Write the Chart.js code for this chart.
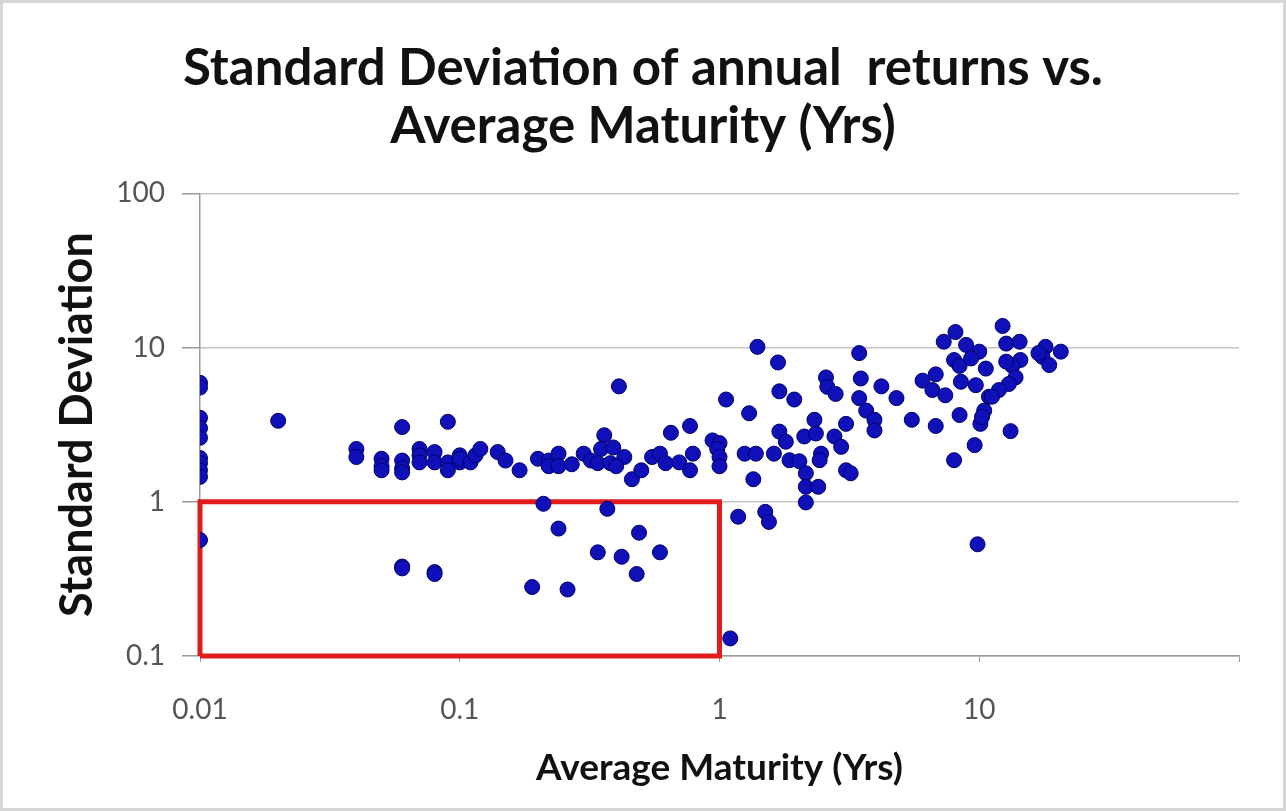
<!DOCTYPE html>
<html>
<head>
<meta charset="utf-8">
<script src="https://cdn.jsdelivr.net/npm/chart.js@4.4.1/dist/chart.umd.min.js"></script>
<style>
  body { margin: 0; background: #fff; }
  #wrap { width: 1286px; height: 811px; }
</style>
</head>
<body>
<div id="wrap"><canvas id="chart" width="1286" height="811"></canvas></div>
<script>
// average maturity (yrs) and standard deviation, read pairwise off the picture
const maturity = [
  0.01, 0.01, 0.01, 0.01, 0.01, 0.01, 0.01, 0.01, 0.01, 0.01,
  0.02, 0.04, 0.04, 0.05, 0.05, 0.05, 0.06, 0.06, 0.06, 0.06,
  0.07, 0.07, 0.07, 0.08, 0.08, 0.09, 0.09, 0.09, 0.1, 0.1, 0.1,
  0.11, 0.115, 0.06, 0.06, 0.08, 0.08,
  0.12, 0.14, 0.15, 0.17, 0.21, 0.2, 0.22, 0.22, 0.24, 0.24, 0.27, 0.3, 0.32,
  0.36, 0.35, 0.34, 0.39, 0.38, 0.41, 0.43, 0.4, 0.46, 0.5, 0.55, 0.59, 0.65,
  0.62, 0.7, 0.77, 0.79, 0.77, 0.94, 1.0, 0.98, 1.0, 1.0, 1.06, 1.3, 1.4,
  1.25, 1.38, 1.35, 1.18, 1.5, 1.55,
  0.24, 0.37, 0.49, 0.34, 0.42, 0.59, 0.48, 0.19, 0.26, 1.1,
  1.68, 1.7, 1.94, 1.7, 1.8, 1.62, 1.86, 2.03, 2.15, 2.15, 2.4, 2.15, 2.12,
  2.32, 2.35, 2.46, 2.43, 2.77, 2.94, 3.07, 3.07, 3.2, 2.57, 2.6, 2.8, 3.45,
  3.5, 3.45, 3.67, 3.95, 3.95, 4.2, 4.8, 5.5, 6.05, 6.8, 6.6, 7.4, 6.8, 7.3,
  8.1, 8.0, 8.4, 9.6, 9.85,
  12.3, 8.9, 10, 8.0, 8.4, 9.3, 10.6, 8.5, 9.7, 10.9, 10.45, 10.1, 13.2,
  12.7, 14.3, 14.4, 13.4, 12.7, 13.8, 13, 11.9, 11.2, 10.25, 18, 20.6, 17.5,
  18.6, 16.9
];
const stdDev = [
  5.9, 5.5, 3.5, 3.0, 2.6, 1.92, 1.78, 1.6, 1.45, 0.565,
  3.35, 2.2, 1.95, 1.9, 1.7, 1.6, 3.05, 1.85, 1.65, 1.55,
  2.2, 2.0, 1.8, 2.1, 1.8, 3.3, 1.8, 1.6, 2.0, 1.8, 1.9,
  1.8, 2.0, 0.38, 0.37, 0.35, 0.34,
  2.2, 2.1, 1.85, 1.6, 0.97, 1.9, 1.85, 1.7, 2.05, 1.7, 1.75, 2.05, 1.85,
  2.7, 2.2, 1.78, 2.25, 1.78, 5.6, 1.95, 1.7, 1.4, 1.6, 1.95, 2.05, 2.8,
  1.78, 1.8, 3.1, 2.05, 1.6, 2.5, 2.4, 2.2, 1.95, 1.7, 4.6, 3.75, 10.1,
  2.05, 2.05, 1.4, 0.8, 0.86, 0.74,
  0.67, 0.9, 0.63, 0.47, 0.44, 0.47, 0.34, 0.28, 0.27, 0.13,
  8.0, 5.2, 4.6, 2.85, 2.45, 2.05, 1.86, 1.83, 1.53, 1.25, 1.25, 0.99, 2.65,
  3.4, 2.77, 2.05, 1.86, 2.65, 2.27, 3.2, 1.6, 1.53, 6.4, 5.56, 5.0, 9.2,
  6.3, 4.7, 3.9, 3.4, 2.9, 5.6, 4.7, 3.4, 6.1, 6.7, 5.3, 4.9, 3.1, 10.9,
  12.6, 1.86, 3.65, 2.33, 0.53,
  13.8, 10.4, 9.4, 8.3, 7.6, 8.5, 7.3, 6.0, 5.7, 4.8, 3.9, 3.2, 2.87,
  10.6, 10.9, 8.3, 7.6, 8.1, 6.4, 5.8, 5.3, 4.8, 3.55, 10.1, 9.4, 8.7,
  7.7, 9.2
];

// highlighted region: maturity 0.01-1, std dev 0.1-1
const boxX = [0.01, 0.01, 1, 1, 0.01];
const boxY = [0.1, 1, 1, 0.1, 0.1];

const xTicks = [0.01, 0.1, 1, 10, 100];
const yTicks = [0.1, 1, 10, 100];

const points = maturity.map((m, i) => ({ x: m, y: stdDev[i] }));
const box = boxX.map((bx, i) => ({ x: bx, y: boxY[i] }));

const frame = {
  id: 'frame',
  beforeDraw(chart) {
    const ctx = chart.ctx;
    ctx.save();
    ctx.fillStyle = '#fff';
    ctx.fillRect(0, 0, chart.width, chart.height);
    ctx.strokeStyle = '#d6d6d6';
    ctx.lineWidth = 3;
    ctx.strokeRect(1.5, 1.5, chart.width - 3, chart.height - 3);
    ctx.restore();
  }
};

const tickFont = { family: 'Lato', size: 28 };

const config = {
  type: 'scatter',
  data: {
    datasets: [
      {
        label: 'Funds',
        data: points,
        backgroundColor: '#1010b8',
        borderColor: '#00006e',
        borderWidth: 1,
        pointRadius: 7.5,
        pointHoverRadius: 7.5,
      },
      {
        label: 'Box',
        data: box,
        showLine: true,
        borderColor: '#e01b1b',
        borderWidth: 5,
        pointRadius: 0,
        clip: false,
      },
    ],
  },
  options: {
    responsive: false,
    animation: false,
    layout: {
      padding: 0,
    },
    plugins: {
      legend: { display: false },
      tooltip: { enabled: false },
      title: {
        display: true,
        text: ['Standard Deviation of annual  returns vs.', 'Average Maturity (Yrs)'],
        color: '#111',
        font: { family: 'Lato', size: 51, weight: 'bold', lineHeight: 1.14 },
        padding: { top: 39, bottom: 38 },
      },
    },
    scales: {
      x: {
        type: 'logarithmic',
        min: 0.01,
        max: 100,
        afterBuildTicks: (scale) => { scale.ticks = xTicks.map(v => ({ value: v })); },
        afterFit: (scale) => { scale.height = 155; },
        ticks: {
          color: '#555',
          font: tickFont,
          padding: 31,
          autoSkip: false,
          maxRotation: 0,
          callback: (v) => (v === 100 ? '' : String(v)),
        },
        grid: {
          drawOnChartArea: false,
          drawTicks: true,
          tickLength: 6,
          tickColor: '#9a9a9a',
        },
        border: { color: '#9a9a9a', width: 1.5 },
        title: {
          display: true,
          text: 'Average Maturity (Yrs)',
          color: '#111',
          font: { family: 'Lato', size: 37, weight: 'bold', lineHeight: 1.2 },
          padding: { top: 0, bottom: 21 },
        },
      },
      y: {
        type: 'logarithmic',
        min: 0.1,
        max: 100,
        afterBuildTicks: (scale) => { scale.ticks = yTicks.map(v => ({ value: v })); },
        afterFit: (scale) => { scale.width = 200; },
        ticks: {
          color: '#555',
          font: tickFont,
          padding: 17,
          callback: (v) => String(v),
        },
        grid: {
          color: '#c4c4c4',
          lineWidth: 1.5,
          drawTicks: true,
          tickLength: 18,
          tickColor: '#9a9a9a',
        },
        border: { color: '#9a9a9a', width: 1.5 },
        title: {
          display: true,
          text: 'Standard Deviation',
          color: '#111',
          font: { family: 'Lato', size: 45, weight: 'bold', lineHeight: 1.2 },
          padding: { top: 50, bottom: 0 },
        },
      },
      // empty strip on the right so the plot ends where the reference does
      spacer: {
        type: 'linear',
        axis: 'y',
        position: 'right',
        ticks: { display: false },
        grid: { display: false },
        border: { display: false },
        afterFit: (scale) => { scale.width = 47; },
      },
    },
  },
  plugins: [frame],
};

const myChart = new Chart(document.getElementById('chart'), config);
</script>
</body>
</html>
